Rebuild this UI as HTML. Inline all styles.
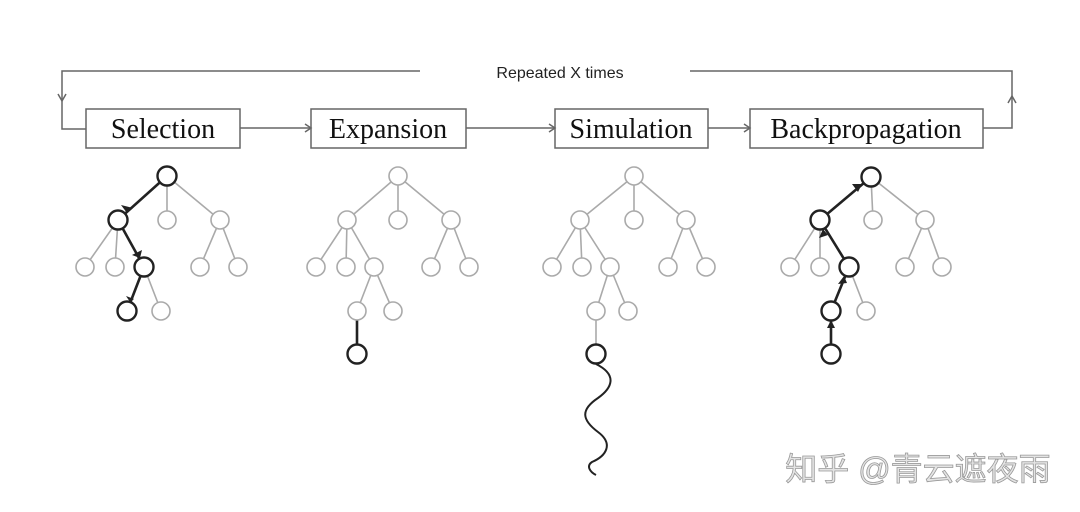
<!DOCTYPE html>
<html><head><meta charset="utf-8"><style>
html,body{margin:0;padding:0;background:#fff;}
svg{display:block;}
</style></head><body>
<svg width="1080" height="512" viewBox="0 0 1080 512" xmlns="http://www.w3.org/2000/svg">
<g fill="none" stroke="#666" stroke-width="1.5">
<polyline points="420,71 62,71 62,129 86,129"/>
<polyline points="58,94 62,101 66,94"/>
<polyline points="690,71 1012,71 1012,128 983,128"/>
<polyline points="1008,103 1012,96 1016,103"/>
<line x1="240" y1="128" x2="311" y2="128"/><polyline points="305,124 311,128 305,132"/>
<line x1="466" y1="128" x2="555" y2="128"/><polyline points="549,124 555,128 549,132"/>
<line x1="708" y1="128" x2="750" y2="128"/><polyline points="744,124 750,128 744,132"/>
<rect x="86" y="109" width="154" height="39"/>
<rect x="311" y="109" width="155" height="39"/>
<rect x="555" y="109" width="153" height="39"/>
<rect x="750" y="109" width="233" height="39"/>
</g>
<g font-family="Liberation Serif, serif" font-size="28" fill="#111" text-anchor="middle">
<text x="163" y="138">Selection</text>
<text x="388" y="138">Expansion</text>
<text x="631" y="138">Simulation</text>
<text x="866" y="138">Backpropagation</text>
</g>
<text x="560" y="78" font-family="Liberation Sans, sans-serif" font-size="16" fill="#222" text-anchor="middle">Repeated X times</text>

<g stroke="#aaa" stroke-width="1.6" fill="none">
<path d="M167,176 L118,220 M167,176 L167,220 M167,176 L220,220 M118,220 L85,267 M118,220 L115,267 M118,220 L144,267 M220,220 L200,267 M220,220 L238,267 M144,267 L127,311 M144,267 L161,311"/>
<path d="M398,176 L347,220 M398,176 L398,220 M398,176 L451,220 M347,220 L316,267 M347,220 L346,267 M347,220 L374,267 M451,220 L431,267 M451,220 L469,267 M374,267 L357,311 M374,267 L393,311"/>
<path d="M634,176 L580,220 M634,176 L634,220 M634,176 L686,220 M580,220 L552,267 M580,220 L582,267 M580,220 L610,267 M686,220 L668,267 M686,220 L706,267 M610,267 L596,311 M610,267 L628,311 M596,311 L596,354"/>
<path d="M871,177 L820,220 M871,177 L873,220 M871,177 L925,220 M820,220 L790,267 M820,220 L820,267 M820,220 L849,267 M925,220 L905,267 M925,220 L942,267 M849,267 L831,311 M849,267 L866,311"/>
</g>
<g stroke="#222" stroke-width="2.6" fill="none">
<path d="M167,176 L118,220 M118,220 L144,267 M144,267 L127,311"/>
<path d="M357,311 L357,354"/>
<path d="M871,177 L820,220 M820,220 L849,267 M849,267 L831,311 M831,311 L831,354"/>
<path d="M596,364 C618,375 612,388 598,398 C580,410 582,420 598,432 C614,444 606,456 592,462 C586,466 590,472 596,475" stroke-width="2"/>
</g>
<g fill="#fff" stroke="#aaa" stroke-width="1.6">
<circle cx="167" cy="220" r="9"/><circle cx="220" cy="220" r="9"/><circle cx="85" cy="267" r="9"/><circle cx="115" cy="267" r="9"/><circle cx="200" cy="267" r="9"/><circle cx="238" cy="267" r="9"/><circle cx="161" cy="311" r="9"/>
<circle cx="398" cy="176" r="9"/><circle cx="347" cy="220" r="9"/><circle cx="398" cy="220" r="9"/><circle cx="451" cy="220" r="9"/><circle cx="316" cy="267" r="9"/><circle cx="346" cy="267" r="9"/><circle cx="374" cy="267" r="9"/><circle cx="431" cy="267" r="9"/><circle cx="469" cy="267" r="9"/><circle cx="357" cy="311" r="9"/><circle cx="393" cy="311" r="9"/>
<circle cx="634" cy="176" r="9"/><circle cx="580" cy="220" r="9"/><circle cx="634" cy="220" r="9"/><circle cx="686" cy="220" r="9"/><circle cx="552" cy="267" r="9"/><circle cx="582" cy="267" r="9"/><circle cx="610" cy="267" r="9"/><circle cx="668" cy="267" r="9"/><circle cx="706" cy="267" r="9"/><circle cx="596" cy="311" r="9"/><circle cx="628" cy="311" r="9"/>
<circle cx="873" cy="220" r="9"/><circle cx="925" cy="220" r="9"/><circle cx="790" cy="267" r="9"/><circle cx="820" cy="267" r="9"/><circle cx="905" cy="267" r="9"/><circle cx="942" cy="267" r="9"/><circle cx="866" cy="311" r="9"/>
</g>
<g fill="#fff" stroke="#222" stroke-width="2.4">
<circle cx="167" cy="176" r="9.5"/><circle cx="118" cy="220" r="9.5"/><circle cx="144" cy="267" r="9.5"/><circle cx="127" cy="311" r="9.5"/>
<circle cx="357" cy="354" r="9.5"/>
<circle cx="596" cy="354" r="9.5"/>
<circle cx="871" cy="177" r="9.5"/><circle cx="820" cy="220" r="9.5"/><circle cx="849" cy="267" r="9.5"/><circle cx="831" cy="311" r="9.5"/><circle cx="831" cy="354" r="9.5"/>
</g>
<g fill="#222">
<polygon points="127,213 121,205 133,208"/>
<polygon points="140,258 132,255 142,250"/>
<polygon points="130,302 126,296 134,299"/>
<polygon points="862,184 852,184 858,192"/>
<polygon points="823,229 819,238 828,235"/>
<polygon points="844,276 838,284 847,283"/>
<polygon points="831,320 827,328 835,328"/>
</g>
<text x="918" y="480" font-family="Liberation Sans, 'Noto Sans CJK SC', sans-serif" font-size="32" fill="#e4e4e4" stroke="#999" stroke-width="0.8" text-anchor="middle">知乎 @青云遮夜雨</text>
</svg>
</body></html>
